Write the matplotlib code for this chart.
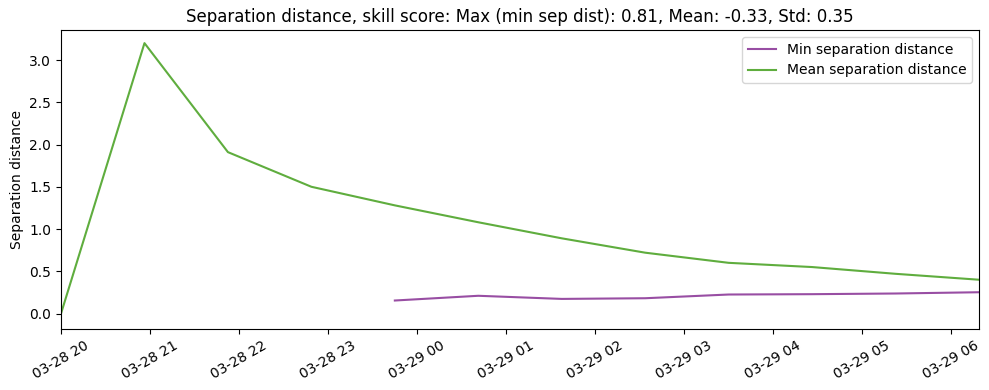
import numpy as np
import pandas as pd
import matplotlib
matplotlib.use('Agg')
import matplotlib.pyplot as plt
import matplotlib.dates as mdates

# time stamps (step of ~56 min)
times = pd.date_range('2024-03-28 20:00:00', periods=12, freq='3375s')

mean_sep = [0.0, 3.20, 1.91, 1.50, 1.28, 1.08, 0.89, 0.72, 0.60, 0.55, 0.47, 0.40]
min_sep = [np.nan, np.nan, np.nan, np.nan, 0.154, 0.21, 0.173, 0.181, 0.225, 0.229, 0.237, 0.252]

title = 'Separation distance, skill score: Max (min sep dist): 0.81, Mean: -0.33, Std: 0.35'

fig, ax = plt.subplots(figsize=(9.89, 3.9), dpi=100)

ax.plot(times, min_sep, color='#984ea3', label='Min separation distance')
ax.plot(times, mean_sep, color='#5fad3e', label='Mean separation distance')

ax.set_xlim(times[0], times[-1])
ax.set_ylim(-0.185, 3.355)
ax.xaxis.set_major_locator(mdates.HourLocator())
ax.xaxis.set_major_formatter(mdates.DateFormatter('%m-%d %H'))
plt.xticks(rotation=30)

ax.set_ylabel('Separation distance')
ax.set_title(title)
ax.legend(loc='upper right')

fig.subplots_adjust(left=0.0617, right=0.9899, top=0.923, bottom=0.156)
plt.savefig('out.png')
